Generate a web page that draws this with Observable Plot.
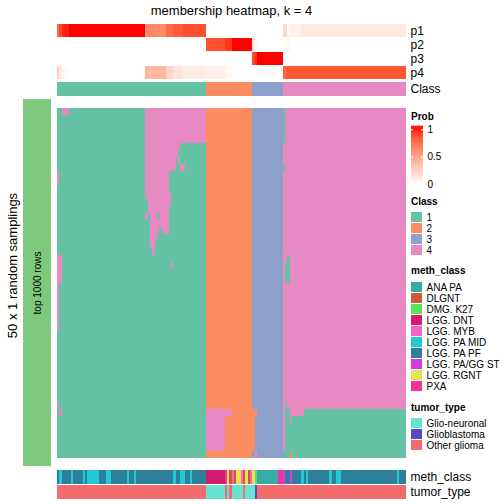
<!DOCTYPE html>
<html><head><meta charset="utf-8">
<script src="https://cdn.jsdelivr.net/npm/d3@7"></script>
<script src="https://cdn.jsdelivr.net/npm/@observablehq/plot@0.6"></script>
<style>
body{margin:0;background:#fff;}
#root{position:relative;width:504px;height:504px;font-family:"Liberation Sans",Arial,sans-serif;overflow:hidden;background:#fff;}
.lbl{position:absolute;white-space:nowrap;color:#000;}
</style></head><body><div id="root"></div>
<script>
// ---------------- data ----------------
const nSamples = 150;
const nRows = 50;
const classLevels = [1, 2, 3, 4];
const classColors = ["#66C2A5", "#FC8D62", "#8DA0CB", "#E78AC3"];
// consensus class per sample, as runs [class, count]
const classRuns = [[1, 64], [2, 20], [3, 13], [4, 53]];
// membership probabilities per sample, as runs [count, p1, p2, p3, p4]
const probRuns = [
  [1, 0.75, 0, 0, 0.25],
  [1, 0.88, 0, 0, 0.12],
  [1, 0.94, 0, 0, 0.06],
  [2, 0.97, 0, 0, 0.03],
  [33, 1, 0, 0, 0],
  [1, 0.58, 0, 0, 0.40],
  [3, 0.62, 0, 0, 0.36],
  [5, 0.60, 0, 0, 0.38],
  [3, 0.75, 0, 0, 0.22],
  [4, 0.80, 0, 0, 0.15],
  [10, 0.85, 0, 0, 0.10],
  [8, 0, 0.84, 0, 0.08],
  [3, 0, 0.92, 0, 0.04],
  [9, 0, 1, 0, 0],
  [1, 0, 0.12, 0.86, 0],
  [1, 0, 0.05, 0.93, 0],
  [11, 0, 0, 1, 0],
  [2, 0.20, 0, 0, 0.78],
  [1, 0.04, 0.05, 0, 0.82],
  [5, 0.08, 0, 0, 0.82],
  [45, 0.12, 0, 0, 0.82]
];
// per-sampling class assignments that differ from the consensus:
// [firstRow, lastRow, firstSample, lastSample, class]
const memberPatches = [
  [0, 0, 2, 4, 4], [9, 10, 0, 0, 4], [21, 24, 0, 1, 4], [25, 31, 0, 0, 4],
  [42, 42, 0, 0, 4], [43, 43, 1, 1, 4],
  [0, 4, 38, 63, 4], [5, 5, 38, 52, 4], [6, 6, 38, 51, 4],
  [7, 7, 38, 50, 4], [7, 7, 52, 52, 4], [8, 8, 38, 50, 4], [8, 8, 53, 54, 4],
  [9, 11, 38, 47, 4], [12, 12, 38, 48, 4], [13, 13, 39, 48, 4], [14, 14, 39, 47, 4],
  [15, 15, 38, 38, 4], [15, 15, 40, 42, 4], [15, 15, 44, 47, 4],
  [16, 16, 40, 47, 4], [17, 17, 40, 43, 4], [17, 17, 45, 47, 4],
  [18, 18, 40, 42, 4], [19, 19, 40, 41, 4], [20, 20, 41, 41, 4], [22, 22, 49, 49, 4],
  [43, 43, 64, 74, 4], [44, 48, 64, 71, 4],
  [43, 43, 84, 85, 2], [44, 48, 84, 84, 2], [49, 49, 85, 85, 4],
  [0, 4, 97, 97, 1], [8, 8, 97, 97, 1], [21, 21, 99, 99, 1], [22, 24, 98, 99, 1],
  [42, 42, 98, 98, 1], [43, 43, 98, 99, 1], [43, 43, 106, 149, 1],
  [44, 44, 98, 99, 1], [44, 44, 101, 149, 1], [45, 48, 98, 149, 1],
  [49, 49, 97, 99, 1], [49, 49, 100, 100, 2], [49, 49, 101, 149, 1]
];
const methLevels = ["ANA PA", "DLGNT", "DMG. K27", "LGG. DNT", "LGG. MYB", "LGG. PA MID", "LGG. PA PF", "LGG. PA/GG ST", "LGG. RGNT", "PXA"];
const methColors = ["#38AAA8", "#CC5A38", "#5BE35B", "#D61A6E", "#F763C6", "#22C8D6", "#2E7F99", "#D43BE0", "#E6E353", "#F5309A"];
const methRuns = [
  ["LGG. PA PF", 1], ["LGG. PA MID", 1], ["LGG. PA PF", 4], ["LGG. PA MID", 1], ["LGG. PA PF", 4],
  ["LGG. PA MID", 1], ["LGG. PA PF", 1], ["LGG. PA MID", 5], ["LGG. PA PF", 3], ["LGG. PA MID", 2],
  ["LGG. PA PF", 7], ["LGG. PA MID", 1], ["LGG. PA PF", 2], ["LGG. PA MID", 1], ["LGG. PA PF", 16],
  ["LGG. PA MID", 1], ["LGG. PA PF", 2], ["LGG. PA MID", 2], ["LGG. PA PF", 2], ["LGG. PA MID", 1],
  ["LGG. PA PF", 6],
  ["LGG. DNT", 8], ["PXA", 1], ["LGG. RGNT", 1], ["DLGNT", 1], ["LGG. MYB", 1], ["DLGNT", 1],
  ["LGG. RGNT", 2], ["LGG. MYB", 1], ["DLGNT", 1], ["LGG. RGNT", 1], ["DLGNT", 1], ["LGG. MYB", 1],
  ["LGG. RGNT", 1], ["DMG. K27", 1], ["ANA PA", 9], ["PXA", 2],
  ["LGG. PA/GG ST", 1], ["LGG. PA PF", 2], ["LGG. PA/GG ST", 1], ["LGG. PA PF", 4], ["LGG. PA MID", 1],
  ["LGG. PA PF", 1], ["LGG. PA MID", 1], ["LGG. PA PF", 9], ["LGG. PA MID", 1], ["LGG. PA PF", 2],
  ["LGG. PA MID", 2], ["LGG. PA PF", 24], ["LGG. PA MID", 1], ["LGG. PA PF", 3]
];
const tumorLevels = ["Glio-neuronal", "Glioblastoma", "Other glioma"];
const tumorColors = ["#67E4D1", "#5A48BE", "#F46A6D"];
const tumorRuns = [
  ["Other glioma", 64], ["Glio-neuronal", 8], ["Other glioma", 1], ["Glio-neuronal", 1],
  ["Other glioma", 1], ["Glio-neuronal", 5], ["Other glioma", 1], ["Glio-neuronal", 4],
  ["Glioblastoma", 1], ["Other glioma", 64]
];
const probLabels = ["p1", "p2", "p3", "p4"];
const probTicks = [0, 0.5, 1];
const titleText = "membership heatmap, k = 4";
const rowTitle = "50 x 1 random samplings";
const sliceTitle = "top 1000 rows";

// ---------------- derived tables ----------------
function expand(runs) { const out = []; for (const [v, n] of runs) for (let i = 0; i < n; i++) out.push(v); return out; }
const samples = d3.range(nSamples);
const sampleClass = expand(classRuns);
const sampleMeth = expand(methRuns);
const sampleTumor = expand(tumorRuns);
const probData = [];
{ let s = 0; for (const [n, ...ps] of probRuns) for (let i = 0; i < n; i++, s++) ps.forEach((v, k) => probData.push({s, row: probLabels[k], v})); }
const matrix = d3.range(nRows).map(() => sampleClass.slice());
for (const [r0, r1, c0, c1, cl] of memberPatches) for (let r = r0; r <= r1; r++) for (let c = c0; c <= c1; c++) matrix[r][c] = cl;
const memberData = [];
matrix.forEach((row, r) => row.forEach((cl, s) => memberData.push({r, s, cl})));
const classData = samples.map(s => ({s, row: "Class", cl: sampleClass[s]}));
const bottomData = samples.flatMap(s => [{s, row: "meth_class", v: sampleMeth[s]}, {s, row: "tumor_type", v: sampleTumor[s]}]);

// ---------------- layout ----------------
const root = document.getElementById("root");
function place(el, left, top) { el.style.position = "absolute"; el.style.left = left + "px"; el.style.top = top + "px"; root.appendChild(el); return el; }
function label(text, left, top, css) { const d = document.createElement("div"); d.className = "lbl"; d.textContent = text; Object.assign(d.style, css || {}); return place(d, left, top); }
const font = '"Liberation Sans", Arial, sans-serif';
const st = (size) => ({fontFamily: font, fontSize: size + "px", color: "#000", background: "transparent", overflow: "visible"});
const X0 = 57, X1 = 406, W = 504;
const xScale = {type: "band", domain: samples, padding: 0, axis: null};
const probColor = {type: "linear", domain: [0, 1], range: ["white", "red"], interpolate: "lab"};
const crisp = {shapeRendering: "crispEdges"};

// title
label(titleText, X0, 3, {width: (X1 - X0) + "px", textAlign: "center", fontSize: "13px", lineHeight: "15px"});

// top probability rows
place(Plot.plot({
  width: W, height: 56, marginLeft: X0, marginRight: W - X1, marginTop: 0, marginBottom: 0,
  style: st(12), x: xScale,
  y: {type: "band", domain: probLabels, paddingInner: 0.07, paddingOuter: 0, axis: "right", tickSize: 0, tickPadding: 4, label: null},
  color: probColor,
  marks: [Plot.cell(probData, {x: "s", y: "row", fill: "v", ...crisp})]
}), 0, 24);

// class row
place(Plot.plot({
  width: W, height: 14, marginLeft: X0, marginRight: W - X1, marginTop: 0, marginBottom: 0,
  style: st(12), x: xScale,
  y: {type: "band", domain: ["Class"], padding: 0, axis: "right", tickSize: 0, tickPadding: 4, label: null},
  color: {domain: classLevels, range: classColors},
  marks: [Plot.cell(classData, {x: "s", y: "row", fill: "cl", ...crisp})]
}), 0, 82);

// main membership heatmap
place(Plot.plot({
  width: W, height: 367, marginLeft: X0, marginRight: W - X1, marginTop: 0, marginBottom: 0,
  style: st(12), x: xScale,
  y: {type: "band", domain: d3.range(nRows), padding: 0, axis: null},
  color: {domain: classLevels, range: classColors},
  marks: [Plot.cell(memberData, {x: "s", y: "r", fill: "cl", ...crisp})]
}), 0, 99);

// left slice bar
place(Plot.plot({
  width: X0, height: 367, marginLeft: 23, marginRight: 6, marginTop: 0, marginBottom: 0,
  style: st(12),
  x: {type: "band", domain: [sliceTitle], padding: 0, axis: null},
  marks: [
    Plot.cell([sliceTitle], {x: d => d, fill: "#7FC97F", ...crisp}),
    Plot.text([sliceTitle], {x: d => d, text: d => d, rotate: -90, fontSize: 10, fill: "#000"})
  ]
}), 0, 99);

// row title (rotated)
label(rowTitle, 12 - 100, 265 - 7.5, {width: "200px", textAlign: "center", fontSize: "13px", lineHeight: "15px", transform: "rotate(-90deg)", transformOrigin: "50% 50%"});

// bottom annotations
place(Plot.plot({
  width: W, height: 30, marginLeft: X0, marginRight: W - X1, marginTop: 0, marginBottom: 0,
  style: st(12), x: xScale,
  y: {type: "band", domain: ["meth_class", "tumor_type"], paddingInner: 0.07, paddingOuter: 0, axis: "right", tickSize: 0, tickPadding: 4, label: null},
  color: {domain: [...methLevels, ...tumorLevels], range: [...methColors, ...tumorColors]},
  marks: [Plot.cell(bottomData, {x: "s", y: "row", fill: "v", ...crisp})]
}), 0, 469);

// ---------------- legends ----------------
const LX = 411;
const bold = {fontSize: "10px", fontWeight: "bold", lineHeight: "12px"};
label("Prob", LX, 111, bold);
const grad = d3.range(0, 106, 1).map(i => ({y1: i / 100, y2: (i + 1.6) / 100, v: Math.min(1, i / 100 + 0.005)}));
place(Plot.plot({
  width: 40, height: 70, marginLeft: 0, marginRight: 28, marginTop: 0, marginBottom: 0,
  style: st(10),
  x: {domain: [0, 1], axis: null},
  y: {domain: [0, 1], range: [64.1, 9.3], axis: "right", ticks: probTicks, tickFormat: d => String(d), tickSize: 0, tickPadding: 4, label: null},
  color: probColor,
  marks: [
    Plot.rect(grad, {x1: 0, x2: 1, y1: "y1", y2: "y2", fill: "v"}),
    Plot.ruleY([0.5, 1], {x1: 0, x2: 0.18, stroke: "white"}),
    Plot.ruleY([0.5, 1], {x1: 0.82, x2: 1, stroke: "white"})
  ]
}), LX, 120);

function swatches(title, titleTop, levels, colors, top, height) {
  label(title, LX, titleTop, bold);
  place(Plot.plot({
    width: W - LX, height, marginLeft: 0, marginRight: W - LX - 11, marginTop: 0, marginBottom: 0,
    style: st(10),
    y: {type: "band", domain: levels, paddingInner: 0.09, paddingOuter: 0.045, axis: "right", tickSize: 0, tickPadding: 4, label: null},
    color: {domain: levels, range: colors},
    marks: [Plot.cell(levels, {y: d => d, fill: d => d})]
  }), LX, top);
}
swatches("Class", 196, classLevels, classColors, 210.5, 45.3);
swatches("meth_class", 265, methLevels, methColors, 279.8, 113.5);
swatches("tumor_type", 402, tumorLevels, tumorColors, 417.2, 34.5);
</script></body></html>
